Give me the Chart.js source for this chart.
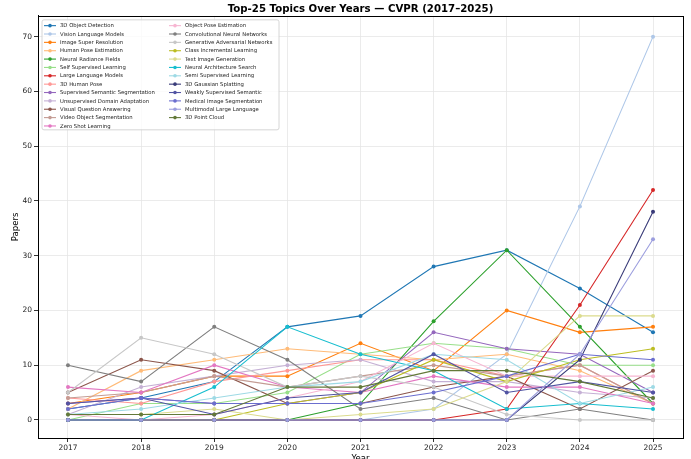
<!doctype html>
<html lang="en">
  <head>
    <meta charset="utf-8">
    <title>Top-25 Topics Over Years</title>
    <style>
      html, body { margin: 0; padding: 0; background: #fff; overflow: hidden; }
      .chart-box { width: 691px; height: 468px; }
    </style>
  </head>
  <body>
    <div class="chart-box">
      <canvas id="topicsChart"></canvas>
    </div>

    <script src="https://cdn.jsdelivr.net/npm/chart.js/dist/chart.umd.min.js"></script>
    <script>
      // years on the x axis and the tick values
      const years = [2017, 2018, 2019, 2020, 2021, 2022, 2023, 2024, 2025];
      const yTicks = [0, 10, 20, 30, 40, 50, 60, 70];

      const topics = [
        '3D Object Detection', 'Vision Language Models', 'Image Super Resolution',
        'Human Pose Estimation', 'Neural Radiance Fields', 'Self Supervised Learning',
        'Large Language Models', '3D Human Pose', 'Supervised Semantic Segmentation',
        'Unsupervised Domain Adaptation', 'Visual Question Answering', 'Video Object Segmentation',
        'Zero Shot Learning', 'Object Pose Estimation', 'Convolutional Neural Networks',
        'Generative Adversarial Networks', 'Class Incremental Learning', 'Text Image Generation',
        'Neural Architecture Search', 'Semi Supervised Learning', '3D Gaussian Splatting',
        'Weakly Supervised Semantic', 'Medical Image Segmentation', 'Multimodal Large Language',
        '3D Point Cloud'
      ];

      // papers per year, one array per topic
      const objectDetection3d   = [2, 4, 7, 17, 19, 28, 31, 24, 16];
      const visionLanguage      = [0, 0, 0, 0, 0, 2, 12, 39, 70];
      const superResolution     = [3, 5, 8, 8, 14, 9, 20, 16, 17];
      const humanPoseEst        = [2, 9, 11, 13, 12, 11, 12, 9, 3];
      const nerf                = [0, 0, 0, 0, 3, 18, 31, 17, 3];
      const selfSupervised      = [0, 3, 3, 5, 12, 14, 13, 10, 10];
      const largeLanguage       = [0, 0, 0, 0, 0, 0, 2, 21, 42];
      const humanPose3d         = [4, 3, 7, 9, 11, 11, 8, 10, 3];
      const supervisedSemSeg    = [3, 4, 3, 3, 5, 16, 13, 12, 5];
      const unsupDomainAdapt    = [1, 6, 8, 10, 11, 7, 7, 5, 4];
      const visualQA            = [5, 11, 9, 3, 3, 6, 8, 2, 9];
      const videoObjectSeg      = [4, 5, 8, 6, 8, 10, 8, 10, 3];
      const zeroShot            = [6, 5, 10, 6, 5, 8, 6, 6, 3];
      const objectPose          = [1, 0, 1, 4, 7, 14, 8, 8, 8];
      const convNets            = [10, 7, 17, 11, 2, 4, 0, 2, 0];
      const gans                = [5, 15, 12, 6, 8, 6, 1, 0, 0];
      const classIncremental    = [0, 0, 0, 3, 5, 11, 7, 11, 13];
      const textImageGen        = [1, 1, 2, 0, 1, 2, 7, 19, 19];
      const archSearch          = [0, 0, 6, 17, 12, 9, 2, 3, 2];
      const semiSupervised      = [1, 2, 4, 6, 7, 12, 11, 3, 6];
      const gaussianSplatting   = [0, 0, 0, 0, 0, 0, 0, 11, 38];
      const weaklySupervised    = [3, 4, 1, 4, 5, 12, 5, 7, 5];
      const medicalSeg          = [2, 4, 3, 3, 3, 5, 8, 12, 11];
      const multimodalLanguage  = [0, 0, 0, 0, 0, 0, 0, 12, 33];
      const pointCloud3d        = [1, 1, 1, 6, 6, 9, 9, 7, 4];

      const seriesValues = [
        objectDetection3d, visionLanguage, superResolution, humanPoseEst, nerf,
        selfSupervised, largeLanguage, humanPose3d, supervisedSemSeg, unsupDomainAdapt,
        visualQA, videoObjectSeg, zeroShot, objectPose, convNets, gans, classIncremental,
        textImageGen, archSearch, semiSupervised, gaussianSplatting, weaklySupervised,
        medicalSeg, multimodalLanguage, pointCloud3d
      ];

      // tab20 then tab20b, like matplotlib
      const palette = [
        '#1f77b4', '#aec7e8', '#ff7f0e', '#ffbb78', '#2ca02c', '#98df8a', '#d62728',
        '#ff9896', '#9467bd', '#c5b0d5', '#8c564b', '#c49c94', '#e377c2', '#f7b6d2',
        '#7f7f7f', '#c7c7c7', '#bcbd22', '#dbdb8d', '#17becf', '#9edae5',
        '#393b79', '#5254a3', '#6b6ecf', '#9c9ede', '#637939'
      ];

      const FONT = 'DejaVu Sans';

      const datasets = topics.map((name, i) => ({
        label: name,
        data: years.map((yr, j) => ({ x: yr, y: seriesValues[i][j] })),
        borderColor: palette[i],
        backgroundColor: palette[i],
        borderWidth: 1.1,
        pointRadius: 2,
        pointBorderWidth: 0,
        pointBackgroundColor: palette[i],
        tension: 0,
        order: topics.length - i   // later series on top, as in matplotlib
      }));

      // box round the plot and the two-column legend inside it
      const frameAndLegend = {
        id: 'frameAndLegend',
        afterDatasetsDraw(chart) {
          const { ctx, chartArea: a } = chart;
          ctx.save();
          ctx.strokeStyle = '#000';
          ctx.lineWidth = 1;
          ctx.strokeRect(Math.round(a.left) + 0.5, Math.round(a.top) + 0.5,
                         Math.round(a.right - a.left), Math.round(a.bottom - a.top));

          const bx = a.left + 4, by = a.top + 4, bw = 237, bh = 110;
          ctx.fillStyle = 'rgba(255,255,255,0.8)';
          ctx.strokeStyle = '#cccccc';
          ctx.lineWidth = 0.8;
          ctx.beginPath();
          ctx.roundRect(bx, by, bw, bh, 2);
          ctx.fill();
          ctx.stroke();

          ctx.font = '5.3px "' + FONT + '"';
          ctx.textBaseline = 'middle';
          const perCol = 13, rowH = 8.36, colW = 125;
          topics.forEach((name, i) => {
            const col = Math.floor(i / perCol), row = i % perCol;
            const lx = bx + 2 + col * colW;
            const ly = by + 5.8 + row * rowH;
            ctx.strokeStyle = palette[i];
            ctx.lineWidth = 1.1;
            ctx.beginPath();
            ctx.moveTo(lx, ly);
            ctx.lineTo(lx + 12, ly);
            ctx.stroke();
            ctx.fillStyle = palette[i];
            ctx.beginPath();
            ctx.arc(lx + 6, ly, 1.8, 0, Math.PI * 2);
            ctx.fill();
            ctx.fillStyle = '#222';
            ctx.fillText(name, lx + 16, ly + 0.3);
          });
          ctx.restore();
        }
      };

      const config = {
        type: 'line',
        data: { datasets: datasets },
        options: {
          responsive: true,
          maintainAspectRatio: false,
          animation: false,
          layout: { padding: { left: 0, right: 8, top: 0, bottom: 0 } },
          plugins: {
            legend: { display: false },
            tooltip: { enabled: false },
            title: {
              display: true,
              fullSize: false,
              text: 'Top-25 Topics Over Years — CVPR (2017–2025)',
              color: '#000',
              font: { family: FONT, size: 10.2, weight: 'bold' },
              padding: { top: 3, bottom: 0.6 }
            }
          },
          scales: {
            x: {
              type: 'linear',
              min: 2016.59,
              max: 2025.41,
              afterBuildTicks: s => { s.ticks = years.map(v => ({ value: v })); },
              afterFit: s => { s.height = 30; },
              ticks: {
                color: '#222',
                font: { family: FONT, size: 7.5 },
                padding: 2,
                maxRotation: 0,
                callback: v => String(v)
              },
              grid: { color: '#e6e6e6', lineWidth: 0.8, tickColor: '#000', tickLength: 4 },
              border: { color: '#000', width: 1 },
              title: {
                display: true,
                text: 'Year',
                color: '#000',
                font: { family: FONT, size: 8.5 },
                padding: { top: 0, bottom: 4 }
              }
            },
            y: {
              min: -3.3,
              max: 73.8,
              afterBuildTicks: s => { s.ticks = yTicks.map(v => ({ value: v })); },
              afterFit: s => { s.width = 38; },
              ticks: {
                color: '#222',
                font: { family: FONT, size: 7.5 },
                padding: 2
              },
              grid: { color: '#e6e6e6', lineWidth: 0.8, tickColor: '#000', tickLength: 4 },
              border: { color: '#000', width: 1 },
              title: {
                display: true,
                text: 'Papers',
                color: '#000',
                font: { family: FONT, size: 8.5 },
                padding: { top: 11, bottom: 0 }
              }
            }
          }
        },
        plugins: [frameAndLegend]
      };

      new Chart(document.getElementById('topicsChart'), config);
    </script>
  </body>
</html>
